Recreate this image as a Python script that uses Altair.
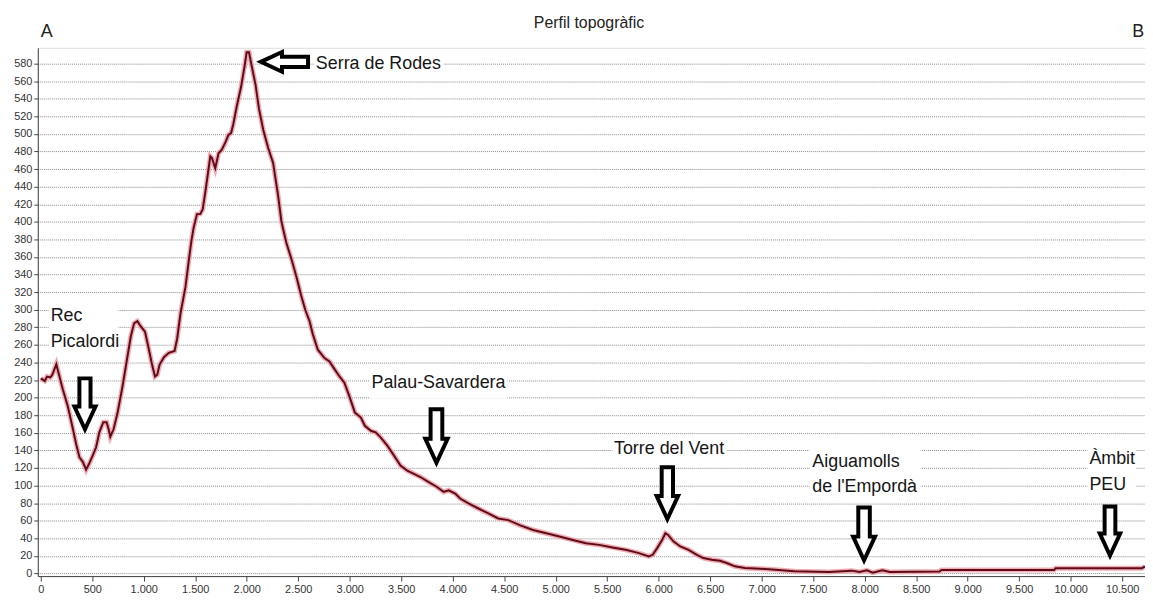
import altair as alt
import pandas as pd

# ---- profile data (distance in m, elevation in m) ----
distance_m = [0, 39, 61, 93, 112, 151, 177, 215, 263, 305, 344, 376, 408, 440, 472, 504, 537, 569,
              607, 639, 659, 675, 707, 746, 794, 842, 874, 906, 938, 971, 1012, 1044, 1077, 1109,
              1131, 1154, 1196, 1244, 1299, 1324, 1357, 1405, 1437, 1463, 1485, 1517, 1549, 1572,
              1604, 1646, 1662, 1694, 1726, 1758, 1797, 1822, 1848, 1871, 1902, 1945, 1983, 1999,
              2022, 2047, 2086, 2118, 2160, 2208, 2256, 2304, 2336, 2353, 2385, 2433, 2481, 2529,
              2568, 2610, 2642, 2690, 2755, 2803, 2844, 2899, 2948, 2996, 3050, 3108, 3147, 3205,
              3252, 3300, 3365, 3430, 3493, 3558, 3623, 3686, 3767, 3847, 3912, 3960, 4024, 4072,
              4153, 4249, 4346, 4442, 4539, 4650, 4780, 4908, 5036, 5165, 5294, 5422, 5551, 5679,
              5808, 5904, 5942, 5985, 6033, 6065, 6091, 6145, 6210, 6290, 6371, 6434, 6515, 6595,
              6660, 6740, 6836, 6985, 7133, 7318, 7652, 7875, 7949, 8022, 8078, 8172, 8244, 8726,
              8746, 9840, 9855, 10693, 10722]
elevation_m = [222, 219, 224, 223, 226, 238, 226, 209, 190, 168, 147, 132, 127, 118, 125.5, 134, 143.5,
               160.5, 172, 172, 164, 155.5, 164, 183, 213, 247, 269.5, 284.6, 287, 281, 275, 258,
               239.5, 224, 226, 237.6, 246, 251, 253, 267, 296, 326, 356, 378.7, 393.7, 408.8, 409,
               414, 439, 474.6, 472.7, 461, 478, 482, 491.5, 499, 501, 512, 531, 553.6, 580, 593,
               593, 578, 555.5, 529, 504.7, 484, 467, 430, 401, 392, 376, 358, 338, 316, 300, 287,
               272, 254.5, 245, 241.3, 233.9, 224.4, 217, 201.8, 183, 177.4, 168, 162.3, 160.5,
               154.9, 145.4, 134, 122.8, 117, 113.4, 109.7, 104, 98.4, 92.8, 94.6, 90.9, 85.2, 79.6,
               73.9, 68.3, 62.6, 60.7, 55, 49.4, 45.7, 42, 38.1, 34.4, 32.5, 29.6, 26.9, 23.1, 19.4,
               21.2, 28.8, 38.1, 45.7, 43.8, 36.3, 30.7, 26.9, 21.2, 17.5, 15.6, 14.4, 11.9, 8.1,
               6.2, 5.4, 4.3, 2.5, 1.7, 3.2, 1.7, 3.6, 0.8, 3.6, 1.7, 2.2, 4, 4, 6, 6, 8]

# ---- axis ticks ----
x_ticks = list(range(0, 10501, 500))
y_ticks = list(range(0, 581, 20))

# ---- place-name labels (text, distance, elevation) ----
label_text = ["Rec", "Picalordi", "Serra de Rodes", "Palau-Savardera", "Torre del Vent",
              "Aiguamolls", "de l'Empordà", "Àmbit", "PEU"]
label_d = [96, 96, 2671, 3211, 5566, 7492, 7492, 10182, 10182]
label_e = [293, 263, 579, 217, 141.7, 126.6, 98.4, 130.4, 101]

# white label boxes
box_d1 = [77, 2654, 3198, 5551, 7463, 10163]
box_d2 = [752, 3912, 4532, 6660, 8543, 10636]
box_e1 = [310, 592.4, 232, 155.2, 145.4, 147.3]
box_e2 = [252.5, 567.2, 199, 128.1, 87.1, 88.6]

# arrows
arrow_d = [429, 2362, 3842, 6084, 7994, 10382]
arrow_e = [192.5, 582, 155.8, 90.8, 44.5, 47.9]
arrow_angle = [0, 90, 0, 0, 0, 0]
arrow_len = [56, 52, 59, 57, 58, 54]

# header texts
head_text = ["A", "B"]
head_d = [0, 10597]
title_text = ["Perfil topogràfic"]
title_d = [5323]

profile = pd.DataFrame({"d": distance_m, "e": elevation_m})
labels = pd.DataFrame({"t": label_text, "d": label_d, "e": label_e})
boxes = pd.DataFrame({"d1": box_d1, "d2": box_d2, "e1": box_e1, "e2": box_e2})
arrows = pd.DataFrame({"d": arrow_d, "e": arrow_e, "a": arrow_angle,
                       "s": [v * v for v in arrow_len]})
heads = pd.DataFrame({"t": head_text, "d": head_d})
titles = pd.DataFrame({"t": title_text, "d": title_d})

FONT = "Liberation Sans"

xscale = alt.Scale(domain=[-29, 10722], nice=False, zero=False)
yscale = alt.Scale(domain=[-3, 598], nice=False, zero=False)

xaxis = alt.Axis(values=x_ticks, title=None, grid=False,
                 labelExpr="replace(format(datum.value, ','), ',', '.')",
                 labelFont=FONT, labelFontSize=11, labelColor="#333",
                 tickSize=5, tickColor="#444", domainColor="#444",
                 labelPadding=3, labelFlush=False, labelOverlap=False)
yaxis = alt.Axis(values=y_ticks, title=None, grid=True, gridDash=[1, 1],
                 gridColor="#8a8a8a", gridWidth=1,
                 labelFont=FONT, labelFontSize=11, labelColor="#333",
                 tickSize=4, tickColor="#444", domainColor="#444",
                 labelPadding=2, labelOverlap=False)


def X(field):
    return alt.X(field, scale=xscale, axis=xaxis)


def Y(field):
    return alt.Y(field, scale=yscale, axis=yaxis)


base = alt.Chart(profile).encode(x=X("d:Q"), y=Y("e:Q"))
halo = base.mark_line(color="#f0a3ab", strokeWidth=5, opacity=0.9)
line = base.mark_line(color="#5e0b19", strokeWidth=2)

box_layer = alt.Chart(boxes).mark_rect(color="white").encode(
    x=X("d1:Q"), x2="d2:Q", y=Y("e1:Q"), y2="e2:Q",
)
text_layer = alt.Chart(labels).mark_text(
    align="left", baseline="middle", font=FONT, fontSize=18, color="#151515"
).encode(x=X("d:Q"), y=Y("e:Q"), text="t:N")

ARROW = "M -0.2 -0.93 L 0.2 -0.93 L 0.2 0.08 L 0.38 0.08 L 0 0.9 L -0.38 0.08 L -0.2 0.08 Z"
arrow_layer = alt.Chart(arrows).mark_point(
    shape=ARROW, filled=True, fill="white", stroke="black", strokeWidth=4,
    opacity=1, strokeJoin="miter"
).encode(
    x=X("d:Q"), y=Y("e:Q"),
    angle=alt.Angle("a:Q", scale=None), size=alt.Size("s:Q", scale=None),
)

head_layer = alt.Chart(heads).mark_text(
    align="left", baseline="alphabetic", font=FONT, fontSize=18, color="#222"
).encode(x=X("d:Q"), y=alt.value(-11), text="t:N")

title_layer = alt.Chart(titles).mark_text(
    align="center", baseline="alphabetic", font=FONT, fontSize=16, color="#222"
).encode(x=X("d:Q"), y=alt.value(-20), text="t:N")

chart = alt.layer(halo, line, box_layer, text_layer, arrow_layer, head_layer, title_layer).properties(
    width=1115, height=532,
    padding={"left": 30, "top": 38, "right": 0, "bottom": 22},
    autosize=alt.AutoSizeParams(type="none"),
).configure_view(fill="#e2e2e2", stroke="#9a9a9a").configure(background="white")

chart.save("out.html", embed_options={"renderer": "svg", "actions": False})
